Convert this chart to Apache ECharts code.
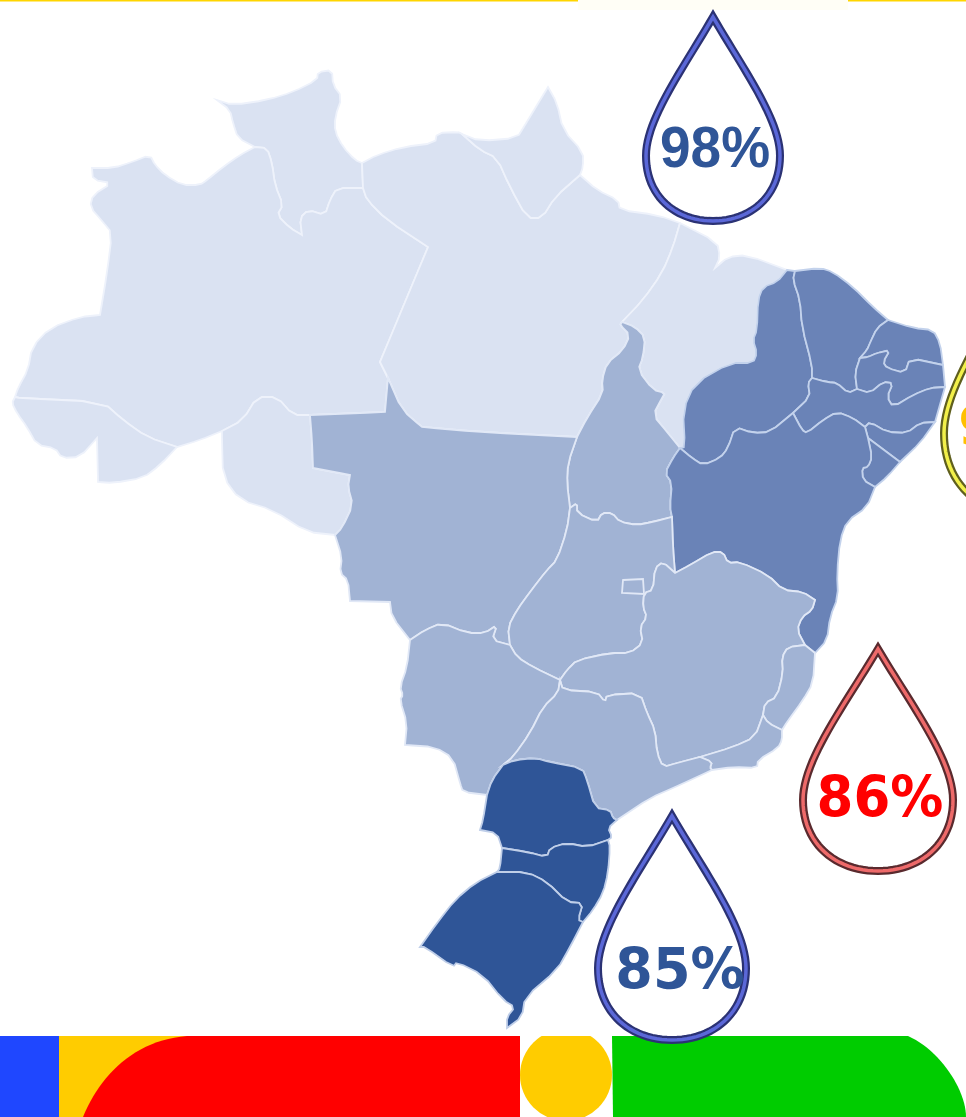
<!DOCTYPE html>
<html>
<head>
<meta charset="utf-8">
<style>
  html, body { margin: 0; padding: 0; background: #fff; }
  #main { width: 966px; height: 1117px; }
</style>
<script src="https://cdn.jsdelivr.net/npm/echarts@6/dist/echarts.min.js"></script>
</head>
<body>
<div id="main"></div>
<script>
// regions and their states
var regionNames = ['Norte', 'Nordeste', 'Centro-Oeste', 'Sudeste', 'Sul'];
var regionStates = [
  ['RR', 'AM', 'PA', 'AP', 'AC', 'RO', 'MA'],
  ['PI', 'CE', 'RN', 'PB', 'PE', 'AL', 'SE', 'BA'],
  ['TO', 'MT', 'GO', 'DF', 'MS'],
  ['MG', 'ES', 'RJ', 'SP'],
  ['PR', 'SC', 'RS']
];
// percentage on each drop (the yellow one runs off the page)
var dropLabels = ['98%', '9', '86%', '85%'];

// colours per region
var regionColors = ['#dae2f2', '#6a83b7', '#a1b3d4', '#a1b3d4', '#2f5597'];
var regionBorders = ['#eef2fb', '#c3d2ec', '#e1e8f6', '#e1e8f6', '#c0cfe9'];

// outline pieces, in page pixels. shared by neighbouring states
// a point written twice stays a hard corner
var seg = {
  rrOuter: [[255,147],[238,138],[233,123],[230,110],[217,100],[217,100],[233,105],[267,100],[293,92],[317,80],[318,72],[332,70],[333,85],[342,97],[335,117],[335,132],[343,147],[355,160],[362,163]],
  rrPa: [[362,163],[363,188]],
  rrAm: [[363,188],[337,188],[330,200],[325,215],[308,210],[300,218],[302,235],[302,235],[290,228],[277,215],[283,205],[275,185],[272,163],[267,148],[255,147]],
  amNorth: [[255,147],[240,155],[223,167],[207,180],[200,185],[182,185],[165,175],[155,165],[150,155],[132,162],[113,168],[92,168],[92,168],[93,180],[112,183],[93,195],[90,207],[103,222],[112,233],[107,273],[100,315],[100,315],[80,317],[50,328],[32,347],[28,370],[18,388],[15,397]],
  amAc: [[15,397],[20,398],[103,402],[123,420],[147,437],[177,447]],
  amOuter: [[177,447],[200,440],[222,431]],
  amRo: [[222,431],[243,420],[257,397],[277,397],[293,415],[310,415]],
  amMt: [[310,415],[385,412],[385,412],[388,378]],
  amPa: [[388,378],[380,362],[380,362],[428,247],[428,247],[387,220],[367,200],[363,188]],
  acOuter: [[177,447],[160,465],[143,478],[113,483],[98,482],[98,482],[97,438],[97,438],[80,457],[62,458],[55,448],[37,445],[27,427],[17,413],[12,403],[15,397]],
  roMt: [[310,415],[312,440],[313,468],[313,468],[350,475],[350,475],[348,487],[353,505],[342,528],[335,535]],
  roOuter: [[335,535],[307,532],[273,510],[240,500],[223,477],[222,440],[222,431]],
  paCoast1: [[362,163],[377,155],[403,147],[435,143],[437,133],[458,132],[462,134]],
  apPa: [[462,134],[480,150],[497,158],[510,187],[527,218],[542,218],[555,197],[580,175]],
  apCoast: [[462,134],[480,141],[517,138],[525,125],[548,87],[548,87],[557,103],[563,130],[583,152],[583,167],[580,175]],
  paCoast2: [[580,175],[597,190],[618,200],[620,210],[657,215],[680,223]],
  paMa: [[680,223],[673,247],[662,273],[643,300],[622,322]],
  paTo: [[622,322],[620,325],[630,335],[623,350],[607,363],[602,380],[603,393],[587,418],[577,437]],
  paMt: [[388,378],[402,410],[422,427],[422,427],[480,432],[577,437]],
  toEast: [[622,322],[635,327],[645,337],[643,357],[638,370],[653,390],[665,393],[662,398],[653,415],[667,432],[680,448]],
  baTo: [[680,448],[673,458],[665,473],[672,483],[670,507],[672,517]],
  toGo: [[570,508],[577,503],[577,513],[597,522],[602,513],[612,513],[620,522],[637,525],[652,522],[672,517]],
  mtTo: [[577,437],[568,463],[567,483],[570,508]],
  maCoast: [[680,223],[717,242],[720,257],[715,268],[715,268],[728,257],[747,255],[787,270]],
  maPi: [[787,270],[777,282],[763,287],[758,300],[757,330],[753,340],[757,353],[753,363],[730,363],[695,383],[683,410],[685,447],[680,448]],
  piCoast: [[787,270],[795,271]],
  piCe: [[795,271],[793,280],[800,300],[802,327],[812,365],[812,378]],
  piPe: [[812,378],[808,383],[810,397],[793,413]],
  piBa: [[793,413],[770,432],[753,433],[735,427],[728,448],[720,458],[703,465],[692,458],[680,448]],
  ceCoast: [[795,271],[820,268],[833,272],[853,287],[873,307],[888,320]],
  ceRn: [[888,320],[877,328],[870,343],[867,350],[860,358]],
  cePb: [[860,358],[855,373],[857,389]],
  cePe: [[857,389],[848,393],[837,383],[827,382],[812,378]],
  rnCoast: [[888,320],[913,328],[933,330],[940,343],[943,365]],
  rnPb: [[943,365],[910,358],[905,373],[887,368],[883,362],[890,350],[877,353],[868,357],[860,358]],
  pbCoast: [[943,365],[945,387]],
  pbPe: [[945,387],[930,388],[913,395],[893,407],[887,397],[893,383],[883,382],[870,393],[857,389]],
  peCoast: [[945,387],[935,422]],
  peAl: [[935,422],[920,423],[907,433],[887,432],[870,422],[865,427]],
  peBa: [[793,413],[802,430],[807,433],[823,420],[837,412],[853,418],[865,427]],
  alCoast: [[935,422],[920,443],[900,462]],
  alSe: [[900,462],[868,438]],
  alBa: [[865,427],[868,438]],
  seCoast: [[900,462],[887,477],[875,487]],
  seBa: [[868,438],[872,457],[868,467],[862,468],[863,480],[875,487]],
  baCoast: [[875,487],[867,507],[847,521],[840,540],[837,573],[838,597],[830,617],[827,640],[815,653]],
  baEs: [[815,653],[805,645]],
  baMg: [[675,573],[690,565],[712,552],[723,552],[728,563],[740,562],[768,575],[783,590],[803,592],[815,600],[815,600],[812,610],[802,617],[797,630],[805,645]],
  goBa: [[675,573],[673,547],[672,517]],
  goMg: [[675,573],[663,562],[655,568],[653,590],[644,593],[643,607],[647,617],[640,627],[643,643],[630,653],[610,653],[577,660],[567,670],[560,680]],
  goMs: [[510,645],[517,657],[533,667],[560,680]],
  mtGo: [[570,508],[567,530],[557,560],[547,570],[530,592],[517,610],[508,627],[510,645]],
  mtMs: [[510,645],[492,640],[497,625],[485,633],[467,633],[442,623],[425,630],[410,640]],
  mtOuter: [[410,640],[392,617],[390,602],[390,602],[350,601],[350,601],[348,580],[340,573],[342,557],[335,535]],
  msSp: [[560,680],[558,693],[543,707],[530,733],[513,757],[503,765]],
  msPr: [[503,765],[492,780],[487,795]],
  msOuter: [[487,795],[463,792],[460,783],[453,758],[435,747],[405,745],[405,745],[407,723],[400,700],[403,695],[400,687],[407,667],[410,640]],
  spMg: [[560,680],[563,690],[597,692],[605,702],[607,695],[640,693],[647,713],[655,730],[657,753],[663,767],[677,763],[700,757]],
  spRj: [[700,757],[712,762],[710,768],[712,770]],
  spCoast: [[712,770],[697,777],[673,788],[650,798],[620,818],[617,820]],
  prSp: [[617,820],[613,818],[610,810],[595,808],[587,780],[582,768],[550,762],[535,758],[515,760],[503,765]],
  esMg: [[805,645],[788,647],[782,657],[783,673],[777,697],[765,703],[763,715]],
  mgRj: [[763,715],[755,737],[733,747],[700,757]],
  esCoast: [[815,653],[813,683],[803,700],[787,722],[782,730]],
  esRj: [[782,730],[768,723],[763,715]],
  rjCoast: [[782,730],[782,740],[778,748],[758,760],[757,768],[733,767],[712,770]],
  prCoast: [[617,820],[608,828],[612,837],[608,840]],
  prSc: [[502,848],[527,852],[547,857],[550,848],[567,843],[587,847],[608,840]],
  prOuter: [[502,848],[497,833],[480,830],[480,830],[483,820],[487,795]],
  scCoast: [[608,840],[610,847],[608,873],[603,893],[593,910],[583,922]],
  scRs: [[497,872],[527,872],[547,882],[567,902],[583,903],[578,920],[583,922]],
  scOuter: [[497,872],[500,868],[502,848]],
  rsOuter: [[583,922],[570,947],[557,970],[525,997],[522,1017],[507,1028],[507,1028],[507,1017],[515,1007],[503,1000],[483,975],[457,962],[453,967],[425,947],[420,947],[420,947],[437,923],[455,900],[475,883],[497,872]]
};

// "-name" walks a piece backwards
var statePieces = {
  RR: 'rrOuter rrPa rrAm',
  AM: 'amNorth amAc amOuter amRo amMt amPa rrAm',
  PA: 'paCoast1 apPa paCoast2 paMa paTo -paMt amPa -rrPa',
  AP: 'apCoast -apPa',
  AC: 'amAc acOuter',
  RO: 'amRo roMt roOuter',
  MA: 'maCoast maPi -toEast -paMa',
  TO: 'toEast baTo -toGo -mtTo -paTo',
  PI: 'piCoast piCe piPe piBa -maPi',
  CE: 'ceCoast ceRn cePb cePe -piCe',
  RN: 'rnCoast rnPb -ceRn',
  PB: '-rnPb pbCoast pbPe -cePb',
  PE: '-pbPe peCoast peAl -peBa -piPe -cePe',
  AL: '-peAl alCoast alSe -alBa',
  SE: '-alSe seCoast -seBa',
  BA: '-piBa peBa alBa seBa baCoast baEs -baMg goBa -baTo',
  MT: 'amMt paMt mtTo mtGo mtMs mtOuter -roMt',
  GO: 'toGo -goBa goMg -goMs -mtGo',
  MS: '-mtMs goMs msSp msPr msOuter',
  MG: 'baMg esMg mgRj -spMg -goMg',
  ES: '-esMg -baEs esCoast esRj',
  RJ: '-mgRj -esRj rjCoast -spRj',
  SP: 'spMg spRj spCoast prSp -msSp',
  PR: '-prSp prCoast -prSc prOuter -msPr',
  SC: 'prSc scCoast -scRs scOuter',
  RS: 'scRs rsOuter'
};

var W = 966, H = 1117;

// round the corners of a piece, its two ends stay put so neighbours still meet
function soften(piece) {
  if (piece.length < 3) return piece.slice();
  var out = [piece[0]];
  for (var i = 0; i < piece.length - 1; i++) {
    var a = piece[i], b = piece[i + 1];
    if (i > 0) out.push([a[0] * 0.75 + b[0] * 0.25, a[1] * 0.75 + b[1] * 0.25]);
    if (i < piece.length - 2) out.push([a[0] * 0.25 + b[0] * 0.75, a[1] * 0.25 + b[1] * 0.75]);
  }
  out.push(piece[piece.length - 1]);
  return out;
}

function ring(state) {
  var pts = [];
  statePieces[state].split(' ').forEach(function (name) {
    var back = name.charAt(0) === '-';
    var piece = soften(seg[back ? name.slice(1) : name]);
    if (back) piece.reverse();
    pts = pts.concat(piece);
  });
  pts.push(pts[0]);
  // geojson y goes up
  return pts.map(function (p) { return [p[0], H - p[1]]; });
}

var features = Object.keys(statePieces).map(function (s) {
  return {
    type: 'Feature',
    properties: { name: s },
    geometry: { type: 'Polygon', coordinates: [ring(s)] }
  };
});
// Distrito Federal sits on top of Goias
features.push({
  type: 'Feature',
  properties: { name: 'DF' },
  geometry: { type: 'Polygon', coordinates: [[[623,H-580],[643,H-579],[644,H-594],[622,H-593],[623,H-580]]] }
});

echarts.registerMap('brasil', { type: 'FeatureCollection', features: features });

var mapData = [];
regionStates.forEach(function (states, r) {
  states.forEach(function (s) {
    mapData.push({
      name: s,
      region: regionNames[r],
      itemStyle: {
        areaColor: regionColors[r],
        borderColor: regionBorders[r],
        borderWidth: 1.8
      }
    });
  });
});

// cubic bezier pieces -> polygon points, graphic has no path type
function cubic(pts, p0, p1, p2, p3) {
  for (var i = 1; i <= 24; i++) {
    var t = i / 24, u = 1 - t;
    pts.push([
      u * u * u * p0[0] + 3 * u * u * t * p1[0] + 3 * u * t * t * p2[0] + t * t * t * p3[0],
      u * u * u * p0[1] + 3 * u * u * t * p1[1] + 3 * u * t * t * p2[1] + t * t * t * p3[1]
    ]);
  }
  return pts;
}

function dropPoints(cx, tip, w, h) {
  var l = cx - w / 2, r = cx + w / 2, mid = tip + 0.68 * h, bot = tip + h;
  var pts = [[cx, tip]];
  cubic(pts, [cx, tip], [cx - 0.22 * w, tip + 0.25 * h], [l, tip + 0.5 * h], [l, mid]);
  cubic(pts, [l, mid], [l, tip + 0.88 * h], [cx - 0.28 * w, bot], [cx, bot]);
  cubic(pts, [cx, bot], [cx + 0.28 * w, bot], [r, tip + 0.88 * h], [r, mid]);
  cubic(pts, [r, mid], [r, tip + 0.5 * h], [cx + 0.22 * w, tip + 0.25 * h], [cx, tip]);
  return pts;
}

var drops = [
  { cx: 713, tip: 17, w: 134, h: 204, dark: '#2b3274', light: '#5b68d8', color: '#2f5597', tx: 715, ty: 151, family: 'Liberation Sans', size: 55, sy: 1.05 },
  { cx: 1024, tip: 262, w: 160, h: 252, dark: '#5f5f1e', light: '#f2f04a', color: '#ffc000', tx: 976, ty: 430, family: 'DejaVu Sans', size: 50, sy: 1.05 },
  { cx: 878, tip: 649, w: 150, h: 222, dark: '#5a2a2e', light: '#ee6a6a', color: '#ff0000', tx: 880, ty: 802, family: 'DejaVu Sans', size: 53, sy: 1.08 },
  { cx: 672, tip: 816, w: 148, h: 224, dark: '#2b3274', light: '#5b68d8', color: '#2f5597', tx: 680, ty: 974, family: 'DejaVu Sans', size: 54, sy: 1.05 }
];

var redPts = [[83, 1117]];
cubic(redPts, [83, 1117], [100, 1075], [135, 1040], [187, 1036]);
redPts.push([520, 1036], [520, 1117]);

var greenPts = [[612, 1036], [908, 1036]];
cubic(greenPts, [908, 1036], [940, 1050], [966, 1090], [966, 1117]);
greenPts.push([613, 1117]);

var graphics = [
  // top rule
  { type: 'rect', shape: { x: 578, y: 0, width: 270, height: 10 }, style: { fill: '#fffef6' } },
  { type: 'rect', shape: { x: 0, y: 0, width: 578, height: 1.5 }, style: { fill: '#ffd500' } },
  { type: 'rect', shape: { x: 848, y: 0, width: 118, height: 1.5 }, style: { fill: '#ffd500' } },
  // bottom band
  { type: 'rect', shape: { x: 0, y: 1036, width: 59, height: 81 }, style: { fill: '#1f47ff' } },
  { type: 'rect', shape: { x: 59, y: 1036, width: 140, height: 81 }, style: { fill: '#ffcc00' } },
  { type: 'polygon', shape: { points: redPts }, style: { fill: '#ff0000' } },
  { type: 'circle', shape: { cx: 566, cy: 1075, r: 46 }, style: { fill: '#ffcc00' } },
  // covers the part of the yellow circle above the band
  { type: 'rect', shape: { x: 518, y: 1024, width: 96, height: 12 }, style: { fill: '#fff' } },
  { type: 'polygon', shape: { points: greenPts }, style: { fill: '#00cc00' } }
];

drops.forEach(function (d, i) {
  var p = dropPoints(d.cx, d.tip, d.w, d.h);
  graphics.push({ type: 'polygon', shape: { points: p }, style: { fill: '#fff', stroke: d.dark, lineWidth: 8, lineJoin: 'miter' }, z: 10 });
  graphics.push({ type: 'polygon', shape: { points: p }, style: { fill: 'transparent', stroke: d.light, lineWidth: 3.5, lineJoin: 'miter' }, z: 11 });
  graphics.push({
    type: 'text', x: d.tx, y: d.ty, scaleY: d.sy, z: 12,
    style: {
      text: dropLabels[i],
      fontFamily: d.family,
      fontSize: d.size,
      fontWeight: 'bold',
      fill: d.color,
      textAlign: 'center',
      textVerticalAlign: 'middle'
    }
  });
});

var chartDom = document.getElementById('main');
var myChart = echarts.init(chartDom);

var option = {
  animation: false,
  backgroundColor: '#fff',
  series: [
    {
      type: 'map',
      map: 'brasil',
      left: 0,
      top: 0,
      width: W,
      height: H,
      aspectScale: 1,
      boundingCoords: [[0, H], [W, 0]],
      roam: false,
      silent: true,
      selectedMode: false,
      label: { show: false },
      emphasis: { disabled: true },
      data: mapData
    }
  ],
  graphic: { elements: graphics }
};

myChart.setOption(option);
</script>
</body>
</html>
